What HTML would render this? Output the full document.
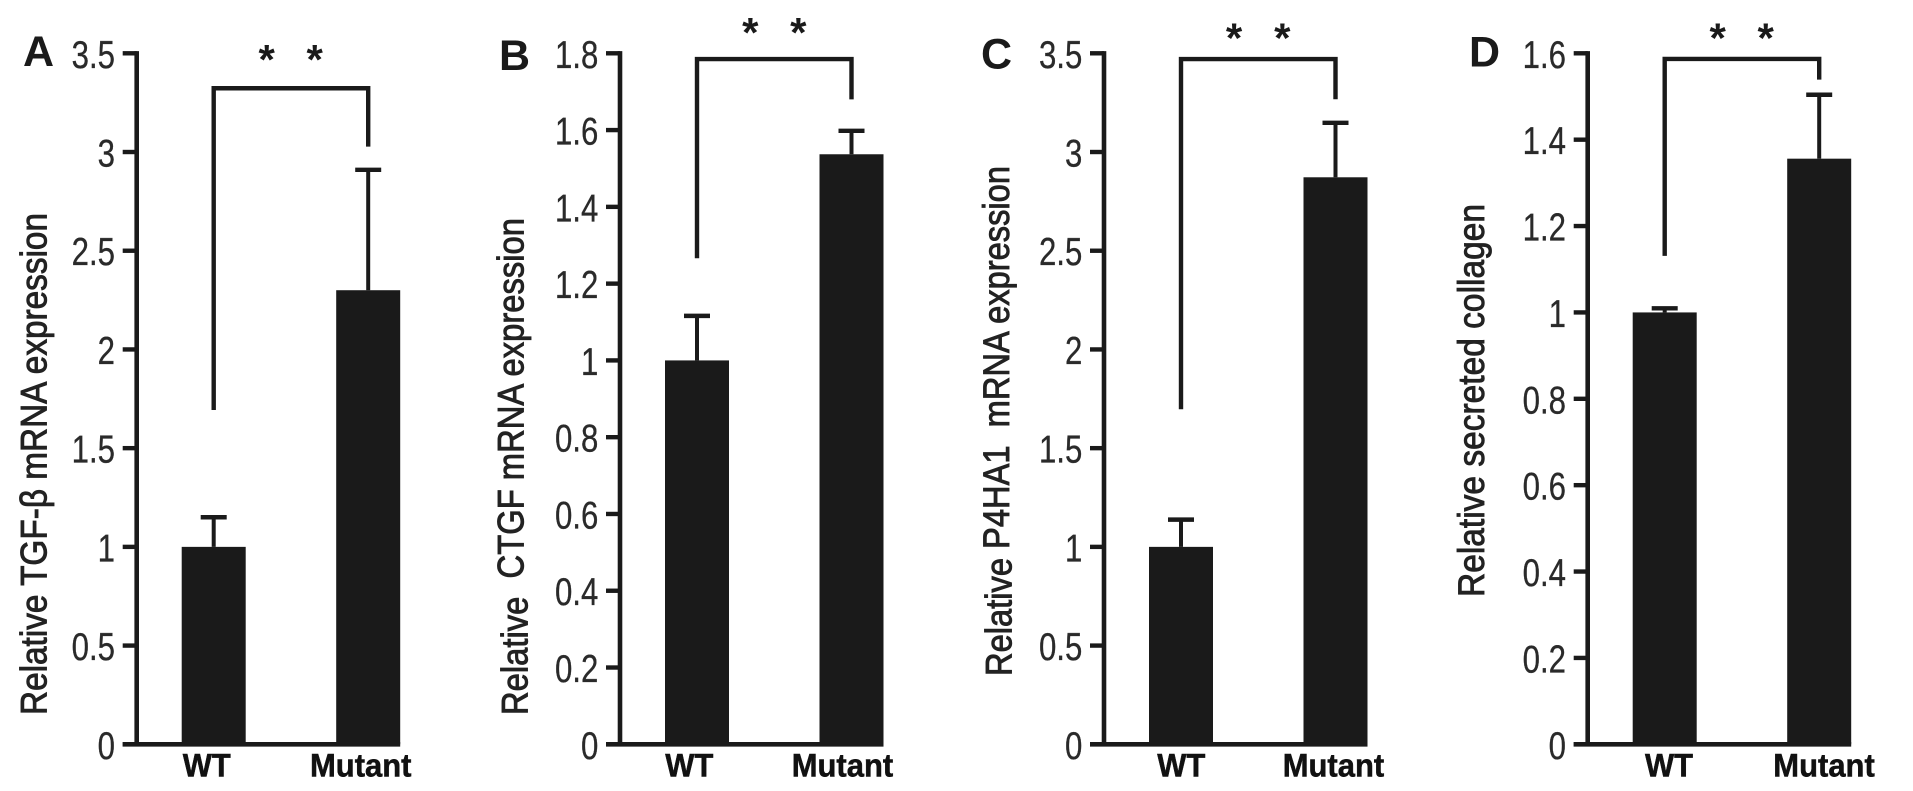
<!DOCTYPE html>
<html lang="en">
<head>
<meta charset="utf-8">
<title>Relative expression bar charts</title>
<style>
html,body{margin:0;padding:0;background:#fff;width:1913px;height:791px;overflow:hidden}
svg{display:block;filter:blur(0.35px)}
text{font-family:"Liberation Sans",Arial,sans-serif;fill:#222}
.title{font-size:37px;stroke:#222;stroke-width:0.9px}
.letter{font-size:43px;font-weight:700;fill:#1a1a1a}
.star{font-size:42px;font-weight:700;text-anchor:middle;fill:#1a1a1a}
.tick{font-size:39px;text-anchor:end;fill:#2a2a2a;stroke:#2a2a2a;stroke-width:0.3px}
.cat{font-size:32px;font-weight:700;fill:#111;stroke:#111;stroke-width:0.5px}
</style>
</head>
<body>
<svg id="chart" xmlns="http://www.w3.org/2000/svg" width="1913" height="791" viewBox="0 0 1913 791">
  <rect width="1913" height="791" fill="#fff"/>

  <text class="letter" x="23" y="66">A</text>
  <text class="letter" x="499" y="70">B</text>
  <text class="letter" x="981" y="68.5">C</text>
  <text class="letter" x="1469" y="66.7">D</text>

  <text class="title" transform="translate(46.5,715) rotate(-90)" textLength="502" lengthAdjust="spacingAndGlyphs">Relative TGF-β mRNA expression</text>
  <text class="title" transform="translate(527.7,715) rotate(-90)" textLength="497" lengthAdjust="spacingAndGlyphs" xml:space="preserve">Relative  <tspan dy="-4">CTGF mRNA expression</tspan></text>
  <text class="title" transform="translate(1011.7,676) rotate(-90)" textLength="510" lengthAdjust="spacingAndGlyphs" xml:space="preserve">Relative <tspan dy="-2.7">P4HA1  mRNA expression</tspan></text>
  <text class="title" transform="translate(1484,597) rotate(-90)" textLength="393" lengthAdjust="spacingAndGlyphs">Relative secreted collagen</text>

  <text class="star" x="266.7" y="74">*</text>
  <text class="star" x="314.7" y="74">*</text>
  <text class="star" x="750.3" y="47">*</text>
  <text class="star" x="798.3" y="47">*</text>
  <text class="star" x="1234" y="52.5">*</text>
  <text class="star" x="1282.3" y="52.5">*</text>
  <text class="star" x="1717.7" y="52.5">*</text>
  <text class="star" x="1765.7" y="52.5">*</text>
</svg>

<script>
const categories = ['WT', 'Mutant'];

const ticksA = ['0', '0.5', '1', '1.5', '2', '2.5', '3', '3.5'];
const valuesA = [1.00, 2.30];
const errorTopsA = [1.15, 2.91];
const bracketA = [1.693, 3.027, 3.323];

const ticksB = ['0', '0.2', '0.4', '0.6', '0.8', '1', '1.2', '1.4', '1.6', '1.8'];
const valuesB = [1.00, 1.537];
const errorTopsB = [1.116, 1.598];
const bracketB = [1.266, 1.68, 1.785];

const ticksC = ['0', '0.5', '1', '1.5', '2', '2.5', '3', '3.5'];
const valuesC = [1.00, 2.872];
const errorTopsC = [1.138, 3.148];
const bracketC = [1.697, 3.267, 3.471];

const ticksD = ['0', '0.2', '0.4', '0.6', '0.8', '1', '1.2', '1.4', '1.6'];
const valuesD = [1.00, 1.356];
const errorTopsD = [1.0095, 1.504];
const bracketD = [1.131, 1.539, 1.587];

const INK = '#1a1a1a';
const Y_ZERO = 744.3;
const Y_TOP = 53.3;
const BAR_OFFSET = 77;
const BAR_STEP = 154.5;
const BAR_WIDTH = 64;

const svg = document.getElementById('chart');
const NS = 'http://www.w3.org/2000/svg';

function yScale(value, maxValue) {
  return Y_ZERO - (value / maxValue) * (Y_ZERO - Y_TOP);
}
function xScale(index, axisX) {
  return axisX + BAR_OFFSET + BAR_STEP * index;
}
function make(tag, attrs, parent) {
  const node = document.createElementNS(NS, tag);
  for (const key in attrs) node.setAttribute(key, attrs[key]);
  parent.appendChild(node);
  return node;
}
function stroke(x1, y1, x2, y2, width, parent) {
  return make('line', { x1: x1, y1: y1, x2: x2, y2: y2, stroke: INK, 'stroke-width': width }, parent);
}

function drawPanel(id, axisX, ticks, values, errorTops, bracket, labelOffsets) {
  const maxValue = parseFloat(ticks[ticks.length - 1]);
  const y = function (v) { return yScale(v, maxValue); };

  const group = make('g', {}, svg);
  
  

  ticks.forEach(function (label) {
    const tickY = y(parseFloat(label));
    const tick = stroke(axisX - 14, tickY, axisX, tickY, 4.4, group);
    
    
    const text = make('text', { 'class': 'tick', transform: 'translate(' + (axisX - 21.7) + ',' + (tickY + 14.5) + ') scale(0.8,1)' }, group);
    text.textContent = label;
    
    
  });

  values.forEach(function (value, i) {
    const cx = xScale(i, axisX);
    const stem = stroke(cx, y(value), cx, y(errorTops[i]), 4, group);
    
    
    const cap = stroke(cx - 13, y(errorTops[i]), cx + 13, y(errorTops[i]), 4.4, group);
    
    
    const bar = make('rect', { x: cx - BAR_WIDTH / 2, y: y(value), width: BAR_WIDTH, height: Y_ZERO - y(value), fill: INK }, group);
    
    
    const cat = make('text', { 'class': 'cat', x: axisX + labelOffsets[i], y: 776.5, textLength: i === 0 ? 48 : 101.5, lengthAdjust: 'spacingAndGlyphs' }, group);
    cat.textContent = categories[i];
    
    
  });

  const yAxis = stroke(axisX, Y_TOP - 2.2, axisX, Y_ZERO + 2.2, 4.6, group);
  
  
  const xAxis = stroke(axisX - 14, Y_ZERO, xScale(1, axisX) + BAR_WIDTH / 2, Y_ZERO, 4.6, group);
  
  

  const left = xScale(0, axisX);
  const right = xScale(1, axisX);
  const path = make('polyline', {
    points: left + ',' + y(bracket[0]) + ' ' + left + ',' + y(bracket[2]) + ' ' + right + ',' + y(bracket[2]) + ' ' + right + ',' + y(bracket[1]),
    fill: 'none', stroke: INK, 'stroke-width': 4.4
  }, group);
  
  
}

drawPanel('a', 136.7, ticksA, valuesA, errorTopsA, bracketA, [46, 173.3]);
drawPanel('b', 620, ticksB, valuesB, errorTopsB, bracketB, [45.3, 171.7]);
drawPanel('c', 1104, ticksC, valuesC, errorTopsC, bracketC, [53.3, 178.7]);
drawPanel('d', 1587.7, ticksD, valuesD, errorTopsD, bracketD, [57.3, 185.6]);
</script>
</body>
</html>
